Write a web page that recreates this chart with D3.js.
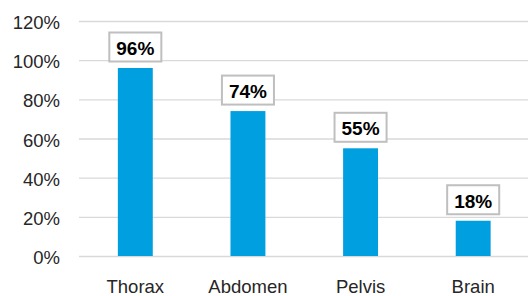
<!DOCTYPE html>
<html><head><meta charset="utf-8">
<script src="https://cdn.jsdelivr.net/npm/d3@7"></script>
<style>body{margin:0;background:#fff}svg{display:block}text{font-family:"Liberation Sans",Arial,sans-serif}</style>
</head><body><svg id="c" width="528" height="296"></svg>
<script>
const categories = ["Thorax", "Abdomen", "Pelvis", "Brain"];
const values = [96, 74, 55, 18];
const yTicks = [0, 20, 40, 60, 80, 100, 120];

const svg = d3.select("#c");
const x = d3.scaleBand().domain(categories).range([79, 529.5]).paddingInner(0.69).paddingOuter(0.345);
const y = d3.scaleLinear().domain([0, 120]).range([256, 21]);

const grid = svg.append("g");
grid.selectAll("line").data(yTicks).join("line")
  .attr("x1", 79).attr("x2", 528)
  .attr("y1", d => y(d) + 0.5).attr("y2", d => y(d) + 0.5)
  .attr("stroke", "#d9d9d9").attr("stroke-width", 1.3);

const yAxis = d3.axisLeft(y).tickValues(yTicks).tickFormat(d => d + "%").tickSize(0).tickPadding(0);
const ya = svg.append("g").attr("transform", "translate(60,0)").call(yAxis);
ya.select(".domain").remove();
ya.selectAll("text").attr("font-size", "18.5px").attr("fill", "#262626")
  .attr("font-family", "Liberation Sans, Arial, sans-serif").attr("dy", "7.5");

svg.append("g").selectAll("rect").data(values).join("rect")
  .attr("x", (d, i) => x(categories[i]))
  .attr("width", x.bandwidth())
  .attr("y", d => y(d))
  .attr("height", d => y(0) - y(d))
  .attr("fill", "#009FE0");

const xAxis = d3.axisBottom(x).tickSize(0).tickPadding(0);
const xa = svg.append("g").attr("transform", "translate(0,256)").call(xAxis);
xa.select(".domain").remove();
xa.selectAll("text").attr("font-size", "18.5px").attr("fill", "#262626")
  .attr("font-family", "Liberation Sans, Arial, sans-serif").attr("dy", "0").attr("y", 37);

const lab = svg.append("g").selectAll("g").data(values).join("g");
lab.each(function(d, i) {
  const g = d3.select(this);
  const cx = x(categories[i]) + x.bandwidth() / 2;
  const bottom = y(d) - 6.5;
  const t = g.append("text").text(d + "%")
    .attr("x", cx).attr("y", bottom - 6.3)
    .attr("text-anchor", "middle").attr("font-weight", "bold")
    .attr("font-size", "19px").attr("fill", "#000");
  const w = t.node().getComputedTextLength();
  g.insert("rect", "text")
    .attr("x", cx - w / 2 - 7).attr("y", bottom - 29)
    .attr("width", w + 14).attr("height", 29)
    .attr("fill", "#fff").attr("stroke", "#bfbfbf").attr("stroke-width", 2);
});
</script></body></html>
